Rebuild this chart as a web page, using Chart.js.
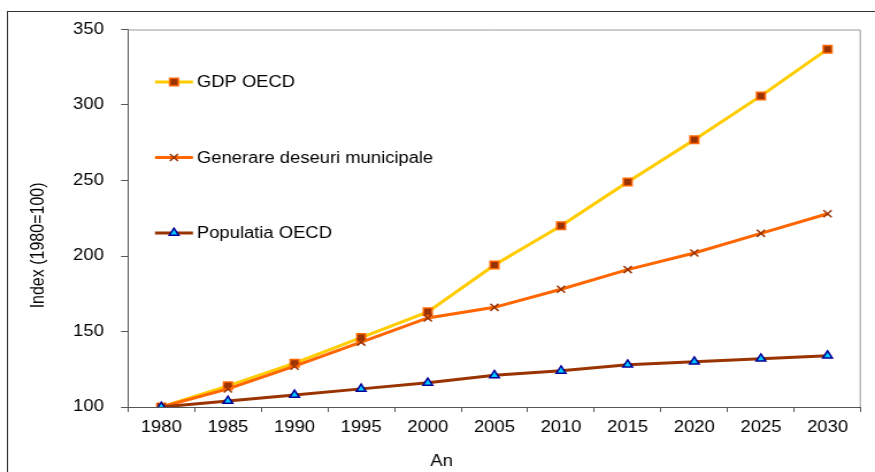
<!DOCTYPE html>
<html>
<head>
<meta charset="utf-8">
<script src="https://cdn.jsdelivr.net/npm/chart.js@4.4.0/dist/chart.umd.min.js"></script>
<style>
  body { margin: 0; background: #fff; }
</style>
</head>
<body>
<canvas id="graphique-index" width="761" height="472" style="display:block;width:875px;height:472px"></canvas>
<script>
const ani = ['1980', '1985', '1990', '1995', '2000', '2005', '2010', '2015', '2020', '2025', '2030']
const gdpOecd = [100, 114, 129, 146, 163, 194, 220, 249, 277, 306, 337]
const deseuriMunicipale = [100, 112, 127, 143, 159, 166, 178, 191, 202, 215, 228]
const populatiaOecd = [100, 104, 108, 112, 116, 121, 124, 128, 130, 132, 134]
const numeSerii = ['GDP OECD', 'Generare deseuri municipale', 'Populatia OECD']
const titluY = 'Index (1980=100)'
const titluX = 'An'

const font = "'Liberation Sans', Arial, sans-serif"

// cadru, legenda si titlurile axelor
const decor = {
    id: 'decor',
    beforeDraw(chart) {
        const ctx = chart.ctx
        ctx.save()
        ctx.strokeStyle = '#333'
        ctx.lineWidth = 1
        ctx.strokeRect(6.5, 11.5, 900, 600)
        ctx.restore()
    },
    afterDraw(chart) {
        const ctx = chart.ctx
        const a = chart.chartArea
        ctx.save()
        // marginea de sus si din dreapta a zonei de desen
        ctx.strokeStyle = '#999'
        ctx.lineWidth = 1
        ctx.beginPath()
        ctx.moveTo(a.left, a.top + 0.5)
        ctx.lineTo(a.right - 0.5, a.top + 0.5)
        ctx.lineTo(a.right - 0.5, a.bottom)
        ctx.stroke()

        // legenda
        chart.data.datasets.forEach((ds, i) => {
            const y = a.top + (a.bottom - a.top) * (0.139 + 0.2 * i)
            const x0 = a.left + 23.5
            const x1 = a.left + 56.5
            ctx.strokeStyle = ds.borderColor
            ctx.lineWidth = ds.borderWidth
            ctx.beginPath()
            ctx.moveTo(x0, y)
            ctx.lineTo(x1, y)
            ctx.stroke()
            ctx.fillStyle = ds.pointBackgroundColor
            ctx.strokeStyle = ds.pointBorderColor
            ctx.lineWidth = ds.pointBorderWidth
            Chart.helpers.drawPoint(ctx, {
                pointStyle: ds.pointStyle, radius: ds.pointRadius, rotation: 0, borderWidth: ds.pointBorderWidth
            }, (x0 + x1) / 2, y)
            ctx.fillStyle = '#000'
            ctx.font = '16px ' + font
            ctx.textAlign = 'left'
            ctx.textBaseline = 'middle'
            ctx.fillText(ds.label, x1 + 3.5, y + 1)
        })

        // titlurile axelor
        ctx.fillStyle = '#000'
        ctx.font = '16px ' + font
        ctx.textAlign = 'center'
        ctx.textBaseline = 'middle'
        ctx.fillText(titluX, a.left + (a.right - a.left) * 0.428, 462)
        ctx.translate(33.5, a.top + (a.bottom - a.top) * 0.572)
        ctx.rotate(-Math.PI / 2)
        ctx.fillText(titluY, 0, 0)
        ctx.restore()
    }
}

const data = {
    labels: ani,
    datasets: [{
        label: numeSerii[0],
        data: gdpOecd,
        borderColor: '#FFCC00',
        borderWidth: 3,
        pointStyle: 'rect',
        pointRadius: 5.3,
        pointBackgroundColor: '#993300',
        pointBorderColor: '#FF6600',
        pointBorderWidth: 1.5,
        order: 3
    }, {
        label: numeSerii[1],
        data: deseuriMunicipale,
        borderColor: '#FF6600',
        borderWidth: 3,
        pointStyle: 'crossRot',
        pointRadius: 5,
        pointBackgroundColor: '#993300',
        pointBorderColor: '#993300',
        pointBorderWidth: 1.5,
        order: 2
    }, {
        label: numeSerii[2],
        data: populatiaOecd,
        borderColor: '#993300',
        borderWidth: 3,
        pointStyle: 'triangle',
        pointRadius: 4.8,
        pointBackgroundColor: '#00CCFF',
        pointBorderColor: '#000099',
        pointBorderWidth: 1.5,
        order: 1
    }]
}

const config = {
    type: 'line',
    data: data,
    options: {
        responsive: false,
        animation: false,
        devicePixelRatio: 1,
        layout: { padding: { left: 0, right: 12.3, top: 29.5, bottom: 0 } },
        plugins: {
            legend: { display: false },
            tooltip: { enabled: false }
        },
        elements: { line: { tension: 0 } },
        scales: {
            x: {
                offset: true,
                grid: { offset: true, drawOnChartArea: false, tickLength: 5, color: '#555' },
                border: { color: '#555', width: 1 },
                ticks: { color: '#000', padding: 6, font: { family: font, size: 16 } },
                afterFit(scale) { scale.height = 65 }
            },
            y: {
                min: 100,
                max: 350,
                grid: { drawOnChartArea: false, tickLength: 6, color: '#555' },
                border: { color: '#555', width: 1 },
                ticks: { stepSize: 50, color: '#000', padding: 15, font: { family: font, size: 16 } },
                afterFit(scale) { scale.width = 111.3 }
            }
        }
    },
    plugins: [decor]
}

new Chart(document.querySelector('#graphique-index'), config)
</script>
</body>
</html>
